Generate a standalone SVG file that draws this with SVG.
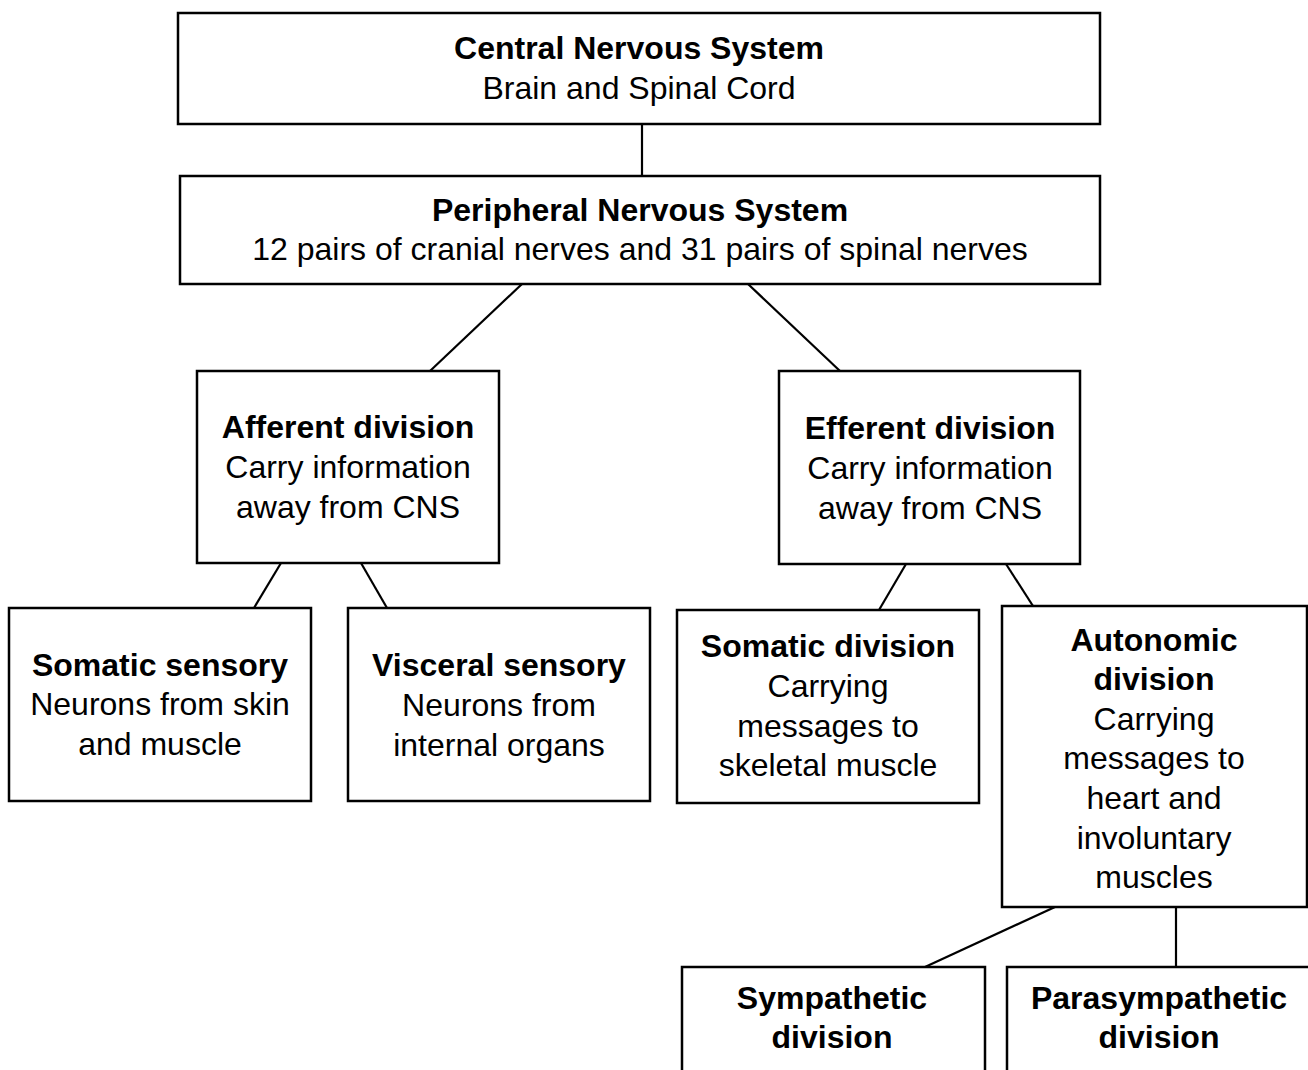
<svg xmlns="http://www.w3.org/2000/svg" width="1308" height="1070" viewBox="0 0 1308 1070">
<style>
.box{fill:#fff;stroke:#000;stroke-width:2.5}
.conn line{stroke:#000;stroke-width:2.2}
text{font-family:"Liberation Sans",Arial,sans-serif;font-size:32px;text-anchor:middle;fill:#000}
.b{font-weight:bold}
</style>
<rect width="1308" height="1070" fill="#fff"/>
<g class="conn">
<line x1="642" y1="124" x2="642" y2="176"/>
<line x1="522" y1="284" x2="430" y2="371"/>
<line x1="748" y1="284" x2="840" y2="371"/>
<line x1="281" y1="563" x2="254" y2="608"/>
<line x1="361" y1="563" x2="387" y2="608"/>
<line x1="906" y1="564" x2="879" y2="610"/>
<line x1="1006" y1="564" x2="1033" y2="606"/>
<line x1="1055" y1="907" x2="925" y2="967"/>
<line x1="1176" y1="907" x2="1176" y2="967"/>
</g>
<g id="cns"><rect class="box" x="178" y="13" width="922" height="111"/>
<text x="639" y="59" class="b">Central Nervous System</text><text x="639" y="99">Brain and Spinal Cord</text></g>
<g id="pns"><rect class="box" x="180" y="176" width="920" height="108"/>
<text x="640" y="221" class="b">Peripheral Nervous System</text><text x="640" y="260">12 pairs of cranial nerves and 31 pairs of spinal nerves</text></g>
<g id="afferent"><rect class="box" x="197" y="371" width="302" height="192"/>
<text x="348" y="438" class="b">Afferent division</text><text x="348" y="478">Carry information</text><text x="348" y="518">away from CNS</text></g>
<g id="efferent"><rect class="box" x="779" y="371" width="301" height="193"/>
<text x="930" y="439" class="b">Efferent division</text><text x="930" y="479">Carry information</text><text x="930" y="519">away from CNS</text></g>
<g id="somatic-sensory"><rect class="box" x="9" y="608" width="302" height="193"/>
<text x="160" y="676" class="b">Somatic sensory</text><text x="160" y="715">Neurons from skin</text><text x="160" y="755">and muscle</text></g>
<g id="visceral-sensory"><rect class="box" x="348" y="608" width="302" height="193"/>
<text x="499" y="676" class="b">Visceral sensory</text><text x="499" y="716">Neurons from</text><text x="499" y="756">internal organs</text></g>
<g id="somatic-division"><rect class="box" x="677" y="610" width="302" height="193"/>
<text x="828" y="657" class="b">Somatic division</text><text x="828" y="697">Carrying</text><text x="828" y="737">messages to</text><text x="828" y="776">skeletal muscle</text></g>
<g id="autonomic"><rect class="box" x="1002" y="606" width="305" height="301"/>
<text x="1154" y="651" class="b">Autonomic</text><text x="1154" y="690" class="b">division</text><text x="1154" y="730">Carrying</text><text x="1154" y="769">messages to</text><text x="1154" y="809">heart and</text><text x="1154" y="849">involuntary</text><text x="1154" y="888">muscles</text></g>
<g id="sympathetic"><rect class="box" x="682" y="967" width="303" height="120"/>
<text x="832" y="1009" class="b">Sympathetic</text><text x="832" y="1048" class="b">division</text></g>
<g id="parasympathetic"><rect class="box" x="1007" y="967" width="320" height="120"/>
<text x="1159" y="1009" class="b">Parasympathetic</text><text x="1159" y="1048" class="b">division</text></g>
</svg>
